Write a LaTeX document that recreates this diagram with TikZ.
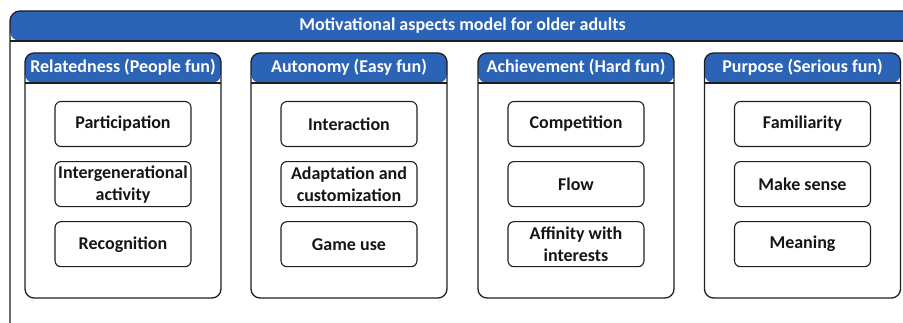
\documentclass[tikz,border=0pt]{standalone}
\usepackage{fontspec}
\setmainfont{Carlito}
\usetikzlibrary{positioning}
\definecolor{band}{HTML}{2B63B7}
\definecolor{edge}{HTML}{1E1E1E}
\definecolor{ink}{HTML}{151515}
\tikzset{
  panel/.style={draw=edge, line width=1.3pt, inner sep=0pt,
    path picture={
      \fill[band] (path picture bounding box.north west) rectangle ([yshift=-#1]path picture bounding box.north east);
      \draw[edge, line width=1.3pt] ([yshift=-#1]path picture bounding box.north west) -- ([yshift=-#1]path picture bounding box.north east);
    }},
  colbox/.style={panel=30pt, rounded corners=9pt, minimum width=196pt, minimum height=245pt},
  headtxt/.style={text=white, font=\bfseries\fontsize{18}{22}\selectfont},
  item/.style={draw=edge, line width=1.1pt, rounded corners=6pt, minimum width=136pt, minimum height=45pt,
    inner sep=1pt, align=center, text=ink, font=\bfseries\fontsize{18}{22}\selectfont}
}

\begin{document}
\begin{tikzpicture}[x=1pt, y=-1pt]
  \useasboundingbox (0,0) rectangle (903,323);
  \clip (0,0) rectangle (903,323);

  % outer frame with the title band
  \node[panel=30pt, rounded corners=10pt, minimum width=905pt, minimum height=330pt] (model) at (462.5,176) {};
  \node[headtxt] (title) at ([yshift=-15pt]model.north) {Motivational aspects model for older adults};

  % the four aspects
  \node[colbox] (rel) at (123,175.5) {};
  \node[colbox] (aut) at (349,175.5) {};
  \node[colbox] (ach) at (576,175.5) {};
  \node[colbox] (pur) at (802.5,175.5) {};
  \node[headtxt] (relhead) at ([yshift=-15pt]rel.north) {Relatedness (People fun)};
  \node[headtxt] (authead) at ([yshift=-15pt]aut.north) {Autonomy (Easy fun)};
  \node[headtxt] (achhead) at ([yshift=-15pt]ach.north) {Achievement (Hard fun)};
  \node[headtxt] (purhead) at ([yshift=-15pt]pur.north) {Purpose (Serious fun)};

  % Relatedness
  \node[item] (rel1) at (123,124) {Participation};
  \node[item, below=14pt of rel1] (rel2) {Intergenerational\\activity};
  \node[item, below=14pt of rel2] (rel3) {Recognition};

  % Autonomy
  \node[item] (aut1) at (349,124) {Interaction};
  \node[item, below=14pt of aut1] (aut2) {Adaptation and\\customization};
  \node[item, below=14pt of aut2] (aut3) {Game use};

  % Achievement
  \node[item] (ach1) at (576,124) {Competition};
  \node[item, below=14pt of ach1] (ach2) {Flow};
  \node[item, below=14pt of ach2] (ach3) {Affinity with\\interests};

  % Purpose
  \node[item] (pur1) at (802.5,124) {Familiarity};
  \node[item, below=14pt of pur1] (pur2) {Make sense};
  \node[item, below=14pt of pur2] (pur3) {Meaning};
\end{tikzpicture}
\end{document}
